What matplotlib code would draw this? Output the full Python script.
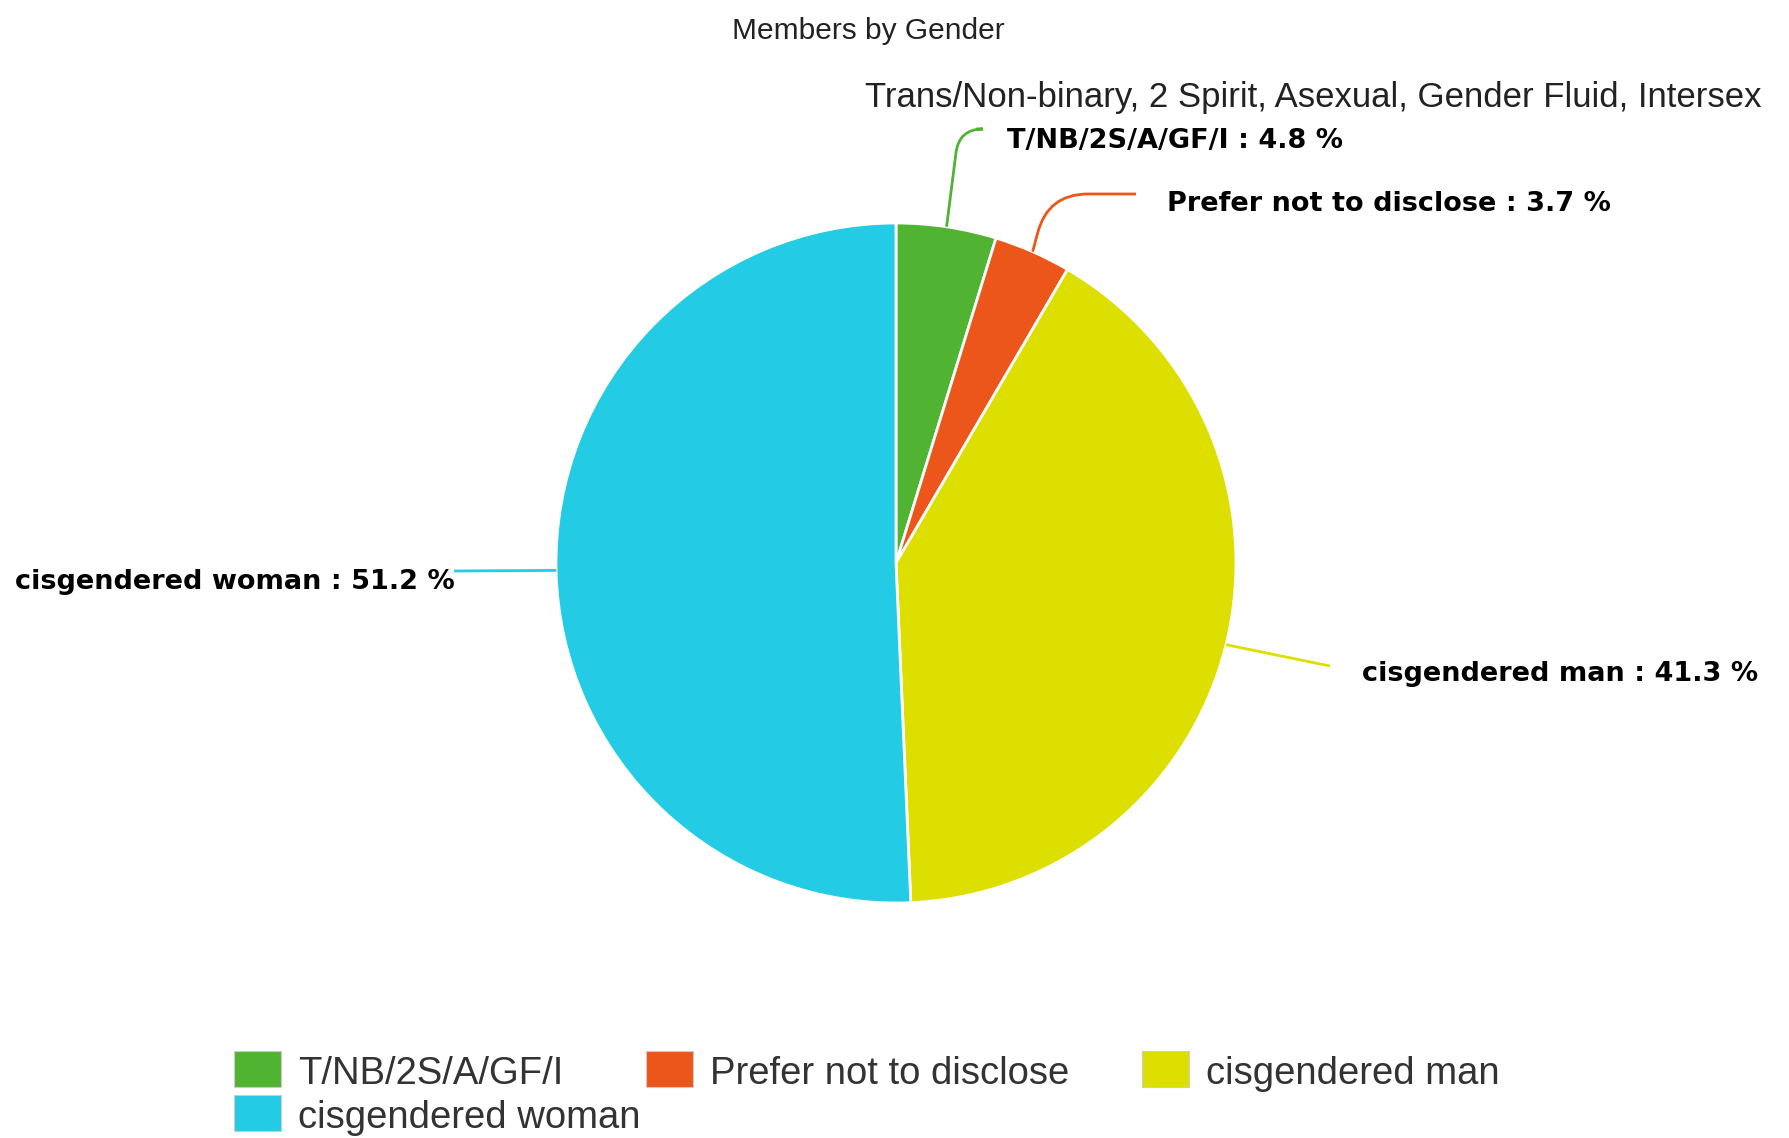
import matplotlib
matplotlib.use("Agg")
import matplotlib.pyplot as plt
from matplotlib.path import Path
from matplotlib.patches import PathPatch, Rectangle
import numpy as np

# data
categories = ["T/NB/2S/A/GF/I", "Prefer not to disclose", "cisgendered man", "cisgendered woman"]
shares = [4.8, 3.7, 41.3, 51.2]
colors = ["#50B432", "#ED561B", "#DDDF00", "#24CBE5"]
title = "Members by Gender"
subtitle = "Trans/Non-binary, 2 Spirit, Asexual, Gender Fluid, Intersex"

W, H = 1790, 1138
CX, CY, R = 896, 563, 340  # pie centre / radius in image pixels (y down)


def Y(y):
    return H - y


fig = plt.figure(figsize=(W / 100, H / 100), dpi=100)
ax = fig.add_axes([0, 0, 1, 1])
wedges, _ = ax.pie(
    shares,
    colors=colors,
    startangle=90,
    counterclock=False,
    center=(CX, Y(CY)),
    radius=R,
    wedgeprops=dict(edgecolor="white", linewidth=2),
)
ax.set_xlim(0, W)
ax.set_ylim(0, H)
ax.set_aspect("equal")
ax.axis("off")

ax.text(868, Y(39), title, ha="center", va="baseline", fontsize=21.5,
        family="Liberation Sans", color="#222222")
ax.text(1762, Y(107), subtitle, ha="right", va="baseline", fontsize=25,
        family="Liberation Sans", color="#222222")

# label layout: (text x, baseline y, ha, connector end, knee or None, knee radius)
layout = [
    (1007, 148, "left", (976, 129), (959, 129), 24),
    (1167, 211, "left", (1136, 194), (1048, 194), 40),
    (1362, 681, "left", (1330, 666), None, 0),
    (455, 589, "right", (454, 571), None, 0),
]

for w, cat, val, col, (tx, ty, ha, end, knee, kr) in zip(
        wedges, categories, shares, colors, layout):
    mid = np.deg2rad((w.theta1 + w.theta2) / 2)
    p0 = np.array([CX + R * np.cos(mid), Y(CY) + R * np.sin(mid)])
    e = np.array([end[0], Y(end[1])])
    if knee is None:
        verts = [p0, e]
        codes = [Path.MOVETO, Path.LINETO]
    else:
        k = np.array([knee[0], Y(knee[1])])
        a = k + (p0 - k) * kr / np.linalg.norm(p0 - k)
        b = k + (e - k) * kr / np.linalg.norm(e - k)
        verts = [p0, a, k, b, e]
        codes = [Path.MOVETO, Path.LINETO, Path.CURVE3, Path.CURVE3, Path.LINETO]
    ax.add_patch(PathPatch(Path(verts, codes), fill=False, edgecolor=col, lw=2))
    ax.text(tx, Y(ty), f"{cat} : {val} %", ha=ha, va="baseline", fontsize=19.5,
            fontweight="bold", family="DejaVu Sans", color="black")

# legend, laid out like the original (three per row, wrapped)
legend_pos = [(234, 1051), (646, 1051), (1142, 1051), (234, 1095)]
for (lx, ly), cat, col in zip(legend_pos, categories, colors):
    ax.add_patch(Rectangle((lx, Y(ly + 36)), 47, 36, facecolor=col,
                           edgecolor="#cccccc", lw=0.8))
    ax.text(lx + 64, Y(ly + 33), cat, ha="left", va="baseline", fontsize=27.5,
            family="Liberation Sans", color="#333333")

fig.savefig("out.png", dpi=100, facecolor="white")
